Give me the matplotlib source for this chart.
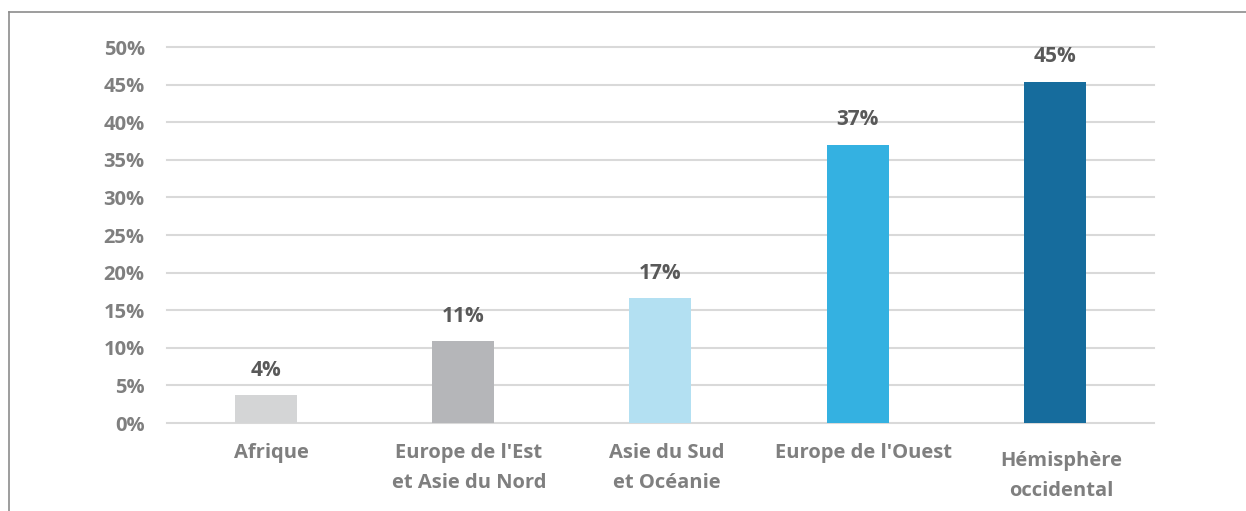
import matplotlib.pyplot as plt
import matplotlib.transforms as mtransforms
from matplotlib.lines import Line2D

# Données
regions = ["Afrique", "Europe de l'Est\net Asie du Nord", "Asie du Sud\net Océanie",
           "Europe de l'Ouest", "Hémisphère\noccidental"]
valeurs = [3.7, 10.9, 16.6, 37.0, 45.4]
couleurs = ["#d4d5d6", "#b5b6b9", "#b3e0f2", "#34b1e1", "#166c9d"]
yticks = [0, 5, 10, 15, 20, 25, 30, 35, 40, 45, 50]

plt.rcParams['font.family'] = ['Open Sans', 'DejaVu Sans']

fig = plt.figure(figsize=(12.46, 5.11), dpi=100)
ax = fig.add_axes([0.134, 0.172, 0.792, 0.736])

x = range(len(regions))
ax.bar(x, valeurs, width=0.314, color=couleurs, zorder=3)

for xi, v in zip(x, valeurs):
    ax.annotate(f"{round(v)}%", (xi, v), xytext=(0, 18), textcoords='offset points',
                ha='center', va='center', fontsize=15, fontweight='bold', color='#595959')

ax.set_xlim(-0.5, 4.5)
ax.set_ylim(0, 50)
ax.set_yticks(yticks)
ax.set_yticklabels([f"{t}%" for t in yticks])
for t in yticks:
    ax.axhline(t, color='#d9d9d9', lw=1.5, zorder=1, clip_on=False)

ax.set_xticks(list(x))
ax.set_xticklabels(regions, linespacing=1.72)
ax.tick_params(axis='both', length=0, labelsize=14.5, labelcolor='#7f7f7f')
ax.tick_params(axis='y', pad=16)
ax.tick_params(axis='x', pad=14)
for lab in ax.get_xticklabels() + ax.get_yticklabels():
    lab.set_fontweight('bold')
# libellés légèrement décalés à droite, le dernier un peu plus bas
for i, lab in enumerate(ax.get_xticklabels()):
    dy = -8 / 100 if i == len(regions) - 1 else 0
    lab.set_transform(lab.get_transform() + mtransforms.ScaledTranslation(6 / 100, dy, fig.dpi_scale_trans))

for s in ax.spines.values():
    s.set_visible(False)

# cadre gauche et haut
fig.add_artist(Line2D([9 / 1246, 9 / 1246], [0, 1 - 12 / 511], color='#8c8c8c', lw=1.2))
fig.add_artist(Line2D([9 / 1246, 1], [1 - 12 / 511, 1 - 12 / 511], color='#8c8c8c', lw=1.2))

fig.savefig('out.png', dpi=100)
